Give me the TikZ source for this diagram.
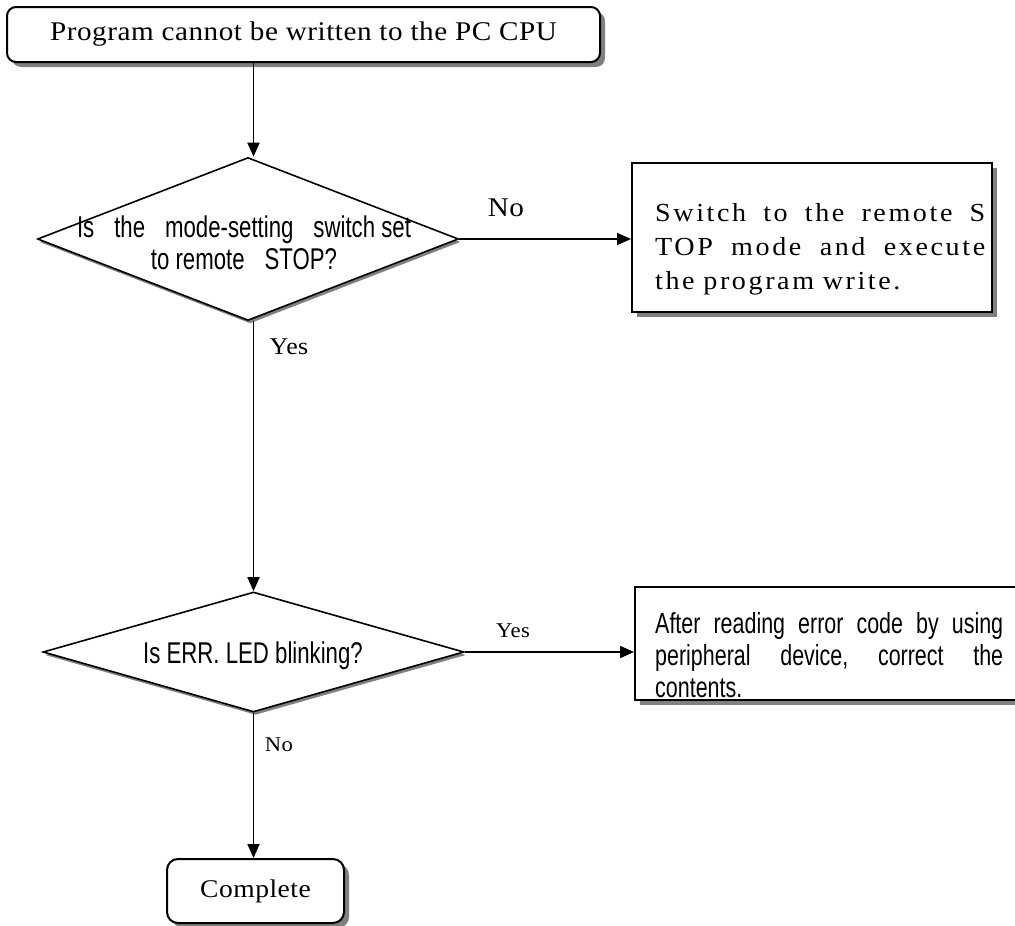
\documentclass[tikz,border=0pt]{standalone}
\usepackage{fontspec}
\usetikzlibrary{shapes.geometric,arrows.meta,shadows}
\newfontfamily\srf[FakeStretch=1.08,LetterSpace=2]{Liberation Serif}
\newfontfamily\srfw[FakeStretch=1.08,LetterSpace=10]{Liberation Serif}
\newfontfamily\sns[FakeStretch=0.74]{Liberation Sans}
\tikzset{
  shd/.style={drop shadow={shadow xshift=5pt,shadow yshift=-5pt,fill=black!50,opacity=1}},
  dshd/.style={drop shadow={shadow xshift=2pt,shadow yshift=-3pt,fill=black!50,opacity=1}},
  rbox/.style={draw,line width=2pt,fill=white,rounded corners=9pt,shd,inner sep=0pt},
  pbox/.style={draw,line width=2pt,fill=white,shd,inner sep=0pt},
  dia/.style={diamond,draw,line width=1.6pt,fill=white,dshd,inner sep=0pt},
  arr/.style={line width=1.8pt,-{Triangle[length=14pt,width=12pt]}},
  lbl/.style={inner sep=0pt,font=\srf\fontsize{#1}{#1}\selectfont},
}
\begin{document}
\begin{tikzpicture}[x=1pt,y=-1pt]
\clip (0,0) rectangle (1015,926);
\fill[white] (0,0) rectangle (1015,926);
% start
\node[rbox,minimum width=593pt,minimum height=55pt] (start) at (303.5,34.5) {};
\node[lbl=27] (starttxt) at (start.center) {Program cannot be written to the PC CPU};
% decision 1
\node[dia,minimum width=421pt,minimum height=163pt] (d1) at (248,239) {};
\node[inner sep=0pt,align=center,font=\sns\fontsize{30}{32}\selectfont] (d1txt) at (244,243)
  {Is\hspace{20pt}the\hspace{20pt}mode-setting\hspace{20pt}switch set\\to remote\hspace{20pt}STOP?};
% box 1
\node[pbox,minimum width=360pt,minimum height=149pt] (b1) at (812,237.5) {};
\node[inner sep=0pt,text width=330pt,align=left,anchor=base west,font=\srfw\fontsize{26}{34}\selectfont] (b1txt) at (655,221)
  {\makebox[330pt]{Switch\hfill to\hfill the\hfill remote\hfill S}\\\makebox[330pt]{TOP\hfill mode\hfill and\hfill execute}\\the program write.};
% decision 2
\node[dia,minimum width=421pt,minimum height=120pt] (d2) at (253.5,652) {};
\node[inner sep=0pt,font=\sns\fontsize{30}{32}\selectfont] (d2txt) at (253,656) {Is ERR. LED blinking?};
% box 2
\node[pbox,minimum width=400pt,minimum height=113pt] (b2) at (835,643) {};
\node[inner sep=0pt,text width=348pt,align=left,anchor=base west,font=\sns\fontsize{29}{32}\selectfont] (b2txt) at (655,633)
  {\makebox[348pt]{After\hfill reading\hfill error\hfill code\hfill by\hfill using}\\\makebox[348pt]{peripheral\hfill device,\hfill correct\hfill the}\\contents.};
% complete
\node[rbox,rounded corners=11pt,minimum width=177pt,minimum height=64pt] (done) at (255.5,891) {};
\node[lbl=25.5] (donetxt) at (done.center) {Complete};
% connectors
\draw[arr] (d2.north |- start.south) -- (d2.north |- d1.north);
\draw[arr] (d1.east) -- (d1.east -| b1.west);
\draw[arr] (d2.north |- d1.south) -- (d2.north);
\draw[arr] (d2.east) -- (d2.east -| b2.west);
\draw[arr] (d2.south) -- (d2.south |- done.north);
% labels
\node[lbl=27] (no1) at (506,208) {No};
\node[lbl=24] (yes1) at (289,347) {Yes};
\node[lbl=21] (yes2) at (513,631) {Yes};
\node[lbl=21] (no2) at (279,745) {No};
\end{tikzpicture}
\end{document}
